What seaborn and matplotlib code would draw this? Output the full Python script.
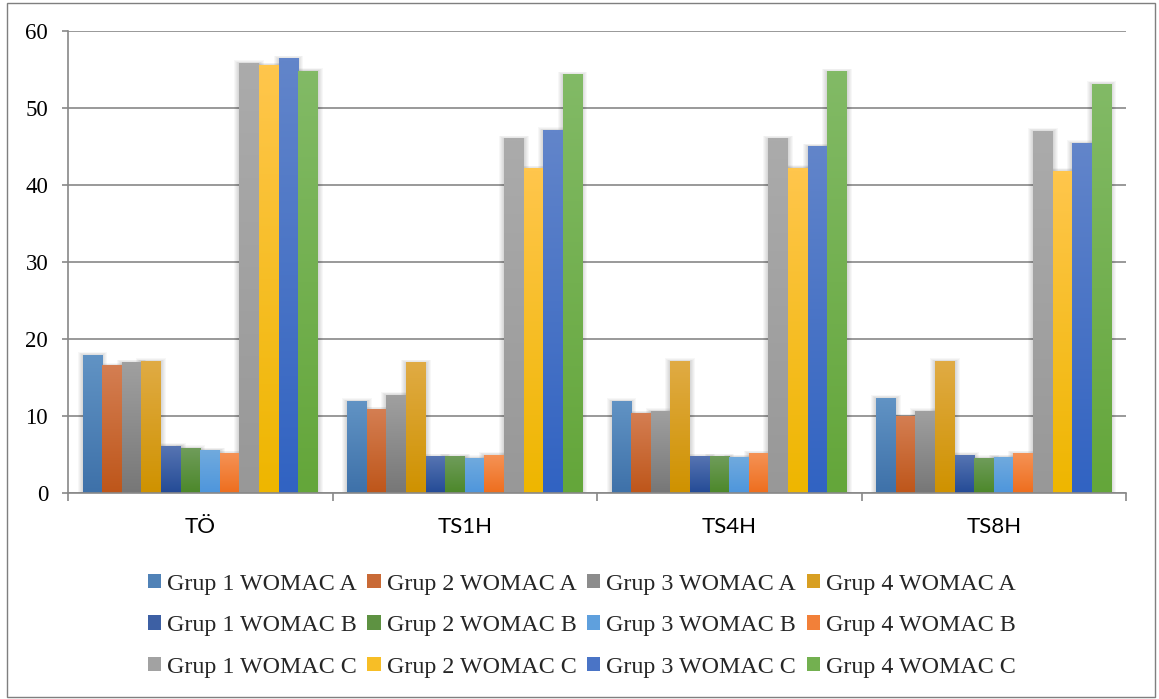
import numpy as np
import pandas as pd
import matplotlib
matplotlib.use("Agg")
import matplotlib.pyplot as plt
from matplotlib.patches import Patch, Rectangle
from matplotlib.colors import to_rgb
import seaborn as sns

categories = ["TÖ", "TS1H", "TS4H", "TS8H"]
series = [
    "Grup 1 WOMAC A", "Grup 2 WOMAC A", "Grup 3 WOMAC A", "Grup 4 WOMAC A",
    "Grup 1 WOMAC B", "Grup 2 WOMAC B", "Grup 3 WOMAC B", "Grup 4 WOMAC B",
    "Grup 1 WOMAC C", "Grup 2 WOMAC C", "Grup 3 WOMAC C", "Grup 4 WOMAC C",
]
# one list per series, values for TÖ, TS1H, TS4H, TS8H
grup1_a = [17.9, 11.9, 11.9, 12.3]
grup2_a = [16.5, 10.8, 10.3, 9.9]
grup3_a = [16.9, 12.7, 10.6, 10.6]
grup4_a = [17.1, 16.9, 17.1, 17.1]
grup1_b = [6.1, 4.7, 4.7, 4.9]
grup2_b = [5.8, 4.7, 4.7, 4.5]
grup3_b = [5.5, 4.5, 4.6, 4.6]
grup4_b = [5.1, 4.9, 5.1, 5.1]
grup1_c = [55.8, 46.0, 46.0, 47.0]
grup2_c = [55.5, 42.1, 42.2, 41.8]
grup3_c = [56.4, 47.1, 45.0, 45.4]
grup4_c = [54.8, 54.3, 54.7, 53.1]
values = [grup1_a, grup2_a, grup3_a, grup4_a,
          grup1_b, grup2_b, grup3_b, grup4_b,
          grup1_c, grup2_c, grup3_c, grup4_c]

# (top, bottom) gradient colours per series
top_colors = ["#6193c4", "#d47e52", "#a0a0a0", "#e0ab44",
              "#5674b2", "#6f9c5a", "#70aade", "#f59255",
              "#ababab", "#ffc64c", "#6285ca", "#82ba66"]
bottom_colors = ["#3e71a9", "#be561a", "#777777", "#cf9200",
                 "#244b96", "#4c882a", "#4e96dc", "#ee6e1e",
                 "#989898", "#eeb600", "#3163c2", "#64a63a"]

df = pd.DataFrame({
    "category": np.repeat([categories], len(series), axis=0).ravel(),
    "series": np.repeat(series, len(categories)),
    "value": np.concatenate(values),
})

sns.set_theme(style="white")
plt.rcParams["font.family"] = ["Liberation Serif", "DejaVu Serif"]

W, H = 1159, 699
fig = plt.figure(figsize=(W / 100, H / 100), dpi=100)
ax_left, ax_right, ax_top, ax_bottom = 68, 1126, 31, 493
ax = fig.add_axes([ax_left / W, 1 - ax_bottom / H,
                   (ax_right - ax_left) / W, (ax_bottom - ax_top) / H])

mid_colors = []
for t, b in zip(top_colors, bottom_colors):
    mid_colors.append(tuple((np.array(to_rgb(t)) + np.array(to_rgb(b))) / 2))

sns.barplot(data=df, x="category", y="value", hue="series", order=categories,
            hue_order=series, palette=mid_colors, width=0.89, dodge=True,
            saturation=1, linewidth=0, legend=False, ax=ax, zorder=3)

# data units per pixel, for the soft shadow around bars
px_x = 4.0 / (ax_right - ax_left)
px_y = 60.0 / (ax_bottom - ax_top)

# vertical gradient fill for every bar
for container, t, b in zip(ax.containers, top_colors, bottom_colors):
    ct = np.array(to_rgb(t))
    cb = np.array(to_rgb(b))
    grad = np.linspace(0, 1, 64)[:, None]
    img = (ct[None, :] * (1 - grad) + cb[None, :] * grad)[:, None, :]
    for bar in container:
        x, w, h = bar.get_x(), bar.get_width(), bar.get_height()
        for k in range(1, 6):
            ax.add_patch(Rectangle((x - k * px_x, 0), w + 2 * k * px_x,
                                   h + k * px_y * 0.6, facecolor="black",
                                   alpha=0.03, linewidth=0, zorder=2))
        bar.set_facecolor("none")
        ax.imshow(img, extent=[x, x + w, 0, h], aspect="auto",
                  interpolation="bilinear", zorder=3.5)

ax.set_xlim(-0.5, 3.5)
ax.set_ylim(0, 60)
ax.set_yticks(range(0, 61, 10))
ax.set_xlabel("")
ax.set_ylabel("")

ax.yaxis.grid(True, color="#888888", linewidth=1.2, zorder=1)
ax.set_axisbelow(True)
for s in ["top", "right"]:
    ax.spines[s].set_visible(False)
for s in ["left", "bottom"]:
    ax.spines[s].set_color("#888888")
    ax.spines[s].set_linewidth(1.2)
    ax.spines[s].set_zorder(5)

ax.tick_params(axis="y", left=True, length=4.3, width=1.2, color="#888888",
               labelsize=16.5, pad=10, labelcolor="black")
ax.tick_params(axis="x", which="major", length=0, pad=17, labelsize=16,
               labelcolor="black")
for lbl in ax.get_xticklabels():
    lbl.set_family(["Lato", "DejaVu Sans"])
ax.set_xticks([-0.5, 0.5, 1.5, 2.5, 3.5], minor=True)
ax.tick_params(axis="x", which="minor", bottom=True, length=5.5, width=1.2,
               color="#888888")

# legend laid out row by row
handles = [Patch(facecolor=c, edgecolor="none") for c in mid_colors]
order = [i * 4 + j for j in range(4) for i in range(3)]
leg = fig.legend([handles[k] for k in order], [series[k] for k in order],
                 loc="center", bbox_to_anchor=(0.502, 0.105), ncol=4,
                 frameon=False, fontsize=17.3, handlelength=0.55,
                 handleheight=0.55, handletextpad=0.25, columnspacing=0.45,
                 labelspacing=0.85, borderpad=0, borderaxespad=0)

fig.add_artist(Rectangle((7 / W, 2 / H), 1148 / W, 694 / H,
                         transform=fig.transFigure, fill=False,
                         edgecolor="#7f7f7f", linewidth=1))

fig.savefig("out.png", dpi=100)
